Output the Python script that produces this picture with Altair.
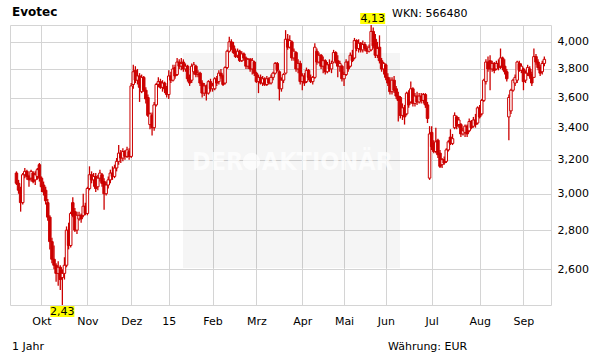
import altair as alt
import pandas as pd

# ---- daily OHLC (EUR), trading days mid-Sep 2014 .. mid-Sep 2015 ----
OPEN = [3.12,3.06,3.02,2.95,3.11,3.13,3.10,3.09,3.12,3.08,3.10,3.17,3.09,3.05,3.02,2.95,2.87,2.74,2.65,2.62,
        2.58,2.61,2.56,2.58,2.62,2.80,2.72,2.95,2.90,2.80,2.86,2.88,2.88,2.93,2.89,3.03,3.11,3.08,3.10,3.04,
        3.09,3.11,3.07,3.00,3.05,3.08,3.12,3.10,3.15,3.19,3.24,3.21,3.25,3.22,3.25,3.22,3.69,3.79,3.72,3.75,
        3.64,3.74,3.65,3.60,3.42,3.48,3.40,3.55,3.69,3.71,3.67,3.70,3.66,3.62,3.75,3.72,3.81,3.76,3.85,3.82,
        3.85,3.80,3.82,3.74,3.72,3.78,3.82,3.76,3.77,3.70,3.63,3.68,3.63,3.71,3.66,3.66,3.73,3.71,3.77,3.75,
        3.70,3.81,3.93,4.00,3.97,3.93,3.90,3.93,3.86,3.91,3.88,3.82,3.87,3.80,3.85,3.77,3.71,3.74,3.70,3.73,
        3.69,3.73,3.70,3.74,3.77,3.84,3.78,3.66,3.72,3.77,4.02,3.96,4.00,3.88,3.92,3.80,3.84,3.71,3.75,3.71,
        3.79,3.74,3.71,3.74,3.93,3.85,3.90,3.82,3.86,3.78,3.83,3.80,3.85,3.92,3.86,3.82,3.82,3.73,3.76,3.85,
        3.82,3.90,3.88,4.01,3.95,3.99,3.94,3.98,3.95,3.93,3.94,4.08,4.02,3.90,3.96,3.86,3.80,3.83,3.74,3.72,
        3.64,3.72,3.66,3.61,3.60,3.48,3.53,3.49,3.63,3.57,3.66,3.56,3.61,3.57,3.61,3.58,3.62,3.55,3.09,3.37,
        3.30,3.25,3.32,3.24,3.17,3.20,3.19,3.26,3.34,3.30,3.40,3.47,3.42,3.42,3.36,3.37,3.41,3.38,3.44,3.41,
        3.45,3.43,3.53,3.49,3.58,3.71,3.85,3.86,3.80,3.84,3.80,3.84,3.82,3.88,3.82,3.78,3.47,3.51,3.65,3.70,
        3.72,3.84,3.79,3.80,3.72,3.77,3.80,3.76,3.74,3.89,3.85,3.81,3.78,3.84]
HIGH = [3.13,3.08,3.04,3.12,3.15,3.14,3.11,3.14,3.13,3.13,3.15,3.18,3.10,3.07,3.04,2.97,2.88,2.76,2.72,2.63,
        2.64,2.62,2.60,2.66,2.82,2.84,2.90,2.98,2.92,2.90,2.90,2.89,3.00,2.95,3.04,3.16,3.13,3.12,3.12,3.11,
        3.14,3.12,3.09,3.07,3.10,3.14,3.16,3.17,3.21,3.29,3.26,3.27,3.26,3.28,3.27,3.70,3.83,3.82,3.80,3.77,
        3.76,3.75,3.67,3.62,3.50,3.50,3.57,3.70,3.74,3.73,3.72,3.71,3.68,3.79,3.78,3.83,3.83,3.88,3.87,3.88,
        3.87,3.84,3.83,3.76,3.84,3.85,3.83,3.79,3.78,3.72,3.70,3.69,3.72,3.73,3.70,3.74,3.75,3.79,3.80,3.76,
        3.82,3.94,4.04,4.02,4.00,3.95,3.95,3.94,3.93,3.92,3.89,3.88,3.88,3.88,3.86,3.78,3.76,3.76,3.75,3.74,
        3.75,3.74,3.76,3.78,3.85,3.85,3.79,3.74,3.77,4.09,4.06,4.05,4.01,3.95,3.93,3.87,3.86,3.77,3.77,3.81,
        3.80,3.76,3.75,3.99,3.95,3.92,3.91,3.89,3.87,3.85,3.87,3.86,3.94,3.93,3.90,3.86,3.83,3.78,3.87,3.86,
        3.92,3.94,4.03,4.02,4.02,4.00,4.01,4.00,3.97,3.98,4.13,4.11,4.06,4.00,4.05,3.88,3.85,3.84,3.77,3.74,
        3.74,3.75,3.68,3.64,3.61,3.56,3.55,3.64,3.65,3.71,3.67,3.63,3.64,3.63,3.63,3.63,3.63,3.57,3.41,3.41,
        3.32,3.40,3.33,3.26,3.21,3.22,3.27,3.32,3.39,3.36,3.50,3.48,3.47,3.43,3.40,3.42,3.42,3.46,3.45,3.47,
        3.49,3.54,3.55,3.59,3.73,3.87,3.89,3.90,3.86,3.85,3.86,3.87,3.95,3.89,3.87,3.80,3.62,3.66,3.73,3.76,
        3.86,3.86,3.84,3.81,3.79,3.83,3.82,3.78,3.95,3.91,3.87,3.83,3.86,3.89]
LOW = [3.05,3.00,2.90,2.94,3.09,3.08,3.04,3.07,3.06,3.05,3.08,3.07,3.01,2.99,2.94,2.85,2.70,2.63,2.60,2.54,
       2.52,2.50,2.43,2.55,2.61,2.70,2.71,2.87,2.79,2.78,2.85,2.84,2.87,2.88,2.88,3.02,3.06,3.04,3.01,3.02,
       3.07,3.04,2.91,2.99,3.03,3.06,3.08,3.09,3.13,3.17,3.18,3.19,3.20,3.21,3.20,3.21,3.66,3.70,3.69,3.57,
       3.63,3.64,3.56,3.47,3.39,3.35,3.38,3.54,3.67,3.66,3.64,3.63,3.60,3.59,3.70,3.71,3.73,3.75,3.80,3.79,
       3.78,3.78,3.71,3.68,3.70,3.76,3.74,3.74,3.68,3.60,3.61,3.58,3.62,3.64,3.64,3.65,3.68,3.69,3.73,3.68,
       3.69,3.80,3.92,3.94,3.91,3.88,3.88,3.85,3.85,3.86,3.80,3.80,3.78,3.76,3.75,3.70,3.63,3.69,3.68,3.68,
       3.68,3.69,3.69,3.72,3.76,3.78,3.58,3.64,3.70,3.76,3.94,3.95,3.86,3.86,3.78,3.77,3.69,3.65,3.68,3.70,
       3.72,3.70,3.69,3.73,3.83,3.84,3.80,3.77,3.76,3.77,3.78,3.77,3.84,3.84,3.74,3.78,3.71,3.68,3.75,3.78,
       3.81,3.85,3.87,3.93,3.92,3.92,3.92,3.93,3.91,3.92,3.93,3.95,3.88,3.88,3.84,3.78,3.76,3.72,3.68,3.62,
       3.62,3.63,3.59,3.44,3.46,3.45,3.42,3.48,3.53,3.56,3.54,3.54,3.55,3.56,3.56,3.56,3.53,3.43,3.08,3.26,
       3.24,3.24,3.21,3.15,3.15,3.17,3.18,3.25,3.29,3.29,3.39,3.39,3.40,3.34,3.35,3.34,3.34,3.37,3.39,3.40,
       3.40,3.42,3.46,3.48,3.57,3.69,3.78,3.65,3.78,3.77,3.79,3.79,3.80,3.79,3.76,3.71,3.32,3.49,3.64,3.68,
       3.70,3.78,3.77,3.65,3.70,3.75,3.73,3.68,3.74,3.83,3.79,3.75,3.76,3.82]
CLOSE = [3.06,3.02,2.95,3.11,3.13,3.10,3.08,3.13,3.07,3.11,3.14,3.09,3.04,3.01,2.96,2.87,2.74,2.65,2.62,2.58,
         2.61,2.55,2.58,2.62,2.80,2.72,2.89,2.88,2.80,2.88,2.88,2.86,2.93,2.89,3.03,3.11,3.08,3.10,3.03,3.09,
         3.12,3.06,3.00,3.05,3.08,3.12,3.10,3.15,3.19,3.24,3.21,3.25,3.22,3.26,3.22,3.68,3.78,3.72,3.75,3.67,
         3.74,3.65,3.59,3.48,3.49,3.40,3.55,3.69,3.71,3.67,3.70,3.66,3.62,3.75,3.72,3.80,3.75,3.85,3.82,3.84,
         3.80,3.82,3.73,3.70,3.82,3.83,3.76,3.77,3.70,3.63,3.68,3.63,3.71,3.66,3.68,3.73,3.70,3.77,3.75,3.69,
         3.81,3.93,4.00,3.96,3.92,3.89,3.93,3.86,3.91,3.88,3.82,3.87,3.80,3.86,3.77,3.71,3.74,3.70,3.73,3.69,
         3.73,3.70,3.74,3.77,3.84,3.79,3.66,3.72,3.76,4.02,3.96,4.01,3.88,3.93,3.80,3.84,3.71,3.75,3.70,3.79,
         3.74,3.71,3.74,3.96,3.85,3.90,3.82,3.86,3.78,3.83,3.80,3.84,3.92,3.86,3.82,3.84,3.73,3.76,3.85,3.80,
         3.90,3.86,4.01,3.95,3.99,3.94,3.98,3.95,3.93,3.96,4.08,3.97,3.90,3.95,3.86,3.80,3.84,3.74,3.70,3.64,
         3.72,3.65,3.61,3.58,3.48,3.53,3.47,3.63,3.55,3.66,3.56,3.61,3.57,3.61,3.58,3.62,3.55,3.46,3.36,3.28,
         3.25,3.31,3.23,3.16,3.20,3.18,3.26,3.31,3.30,3.33,3.48,3.41,3.45,3.36,3.38,3.41,3.36,3.44,3.40,3.45,
         3.42,3.53,3.47,3.58,3.72,3.85,3.80,3.80,3.84,3.79,3.84,3.81,3.88,3.81,3.78,3.73,3.60,3.65,3.72,3.74,
         3.85,3.79,3.82,3.71,3.77,3.81,3.75,3.70,3.89,3.85,3.81,3.77,3.84,3.87]

MONTH_TICKS = [12, 34, 55, 73, 94, 115, 137, 157, 177, 199, 222, 243]
MONTH_LABELS = ["Okt", "Nov", "Dez", "15", "Feb", "Mrz", "Apr", "Mai", "Jun", "Jul", "Aug", "Sep"]
PRICE_TICKS = [2.6, 2.8, 3.0, 3.2, 3.4, 3.6, 3.8, 4.0]

TITLE = "Evotec"
WKN = "WKN: 566480"
PERIOD = "1 Jahr"
CURRENCY = "Währung: EUR"

RED = "#cc0000"
GRID = "#d4d4d4"
FONT = "DejaVu Sans"
WM_FONT = "DejaVu Sans Condensed, Liberation Sans Narrow, DejaVu Sans"
N = len(CLOSE)

df = pd.DataFrame({"i": list(range(N)), "open": OPEN, "high": HIGH, "low": LOW, "close": CLOSE})
df["dir"] = ["down" if c < o else "up" for o, c in zip(OPEN, CLOSE)]

i_max = HIGH.index(max(HIGH))
i_min = LOW.index(min(LOW))
hi_df = pd.DataFrame({"i": [i_max], "lab": [f"{max(HIGH):.2f}".replace(".", ",")]})
lo_df = pd.DataFrame({"i": [i_min], "lab": [f"{min(LOW):.2f}".replace(".", ",")]})

x_scale = alt.Scale(domain=[-0.7, N - 0.2], nice=False, zero=False)
y_scale = alt.Scale(type="log", domain=[min(LOW), max(HIGH)], nice=False, zero=False)

tick_str = ",".join(str(t) for t in MONTH_TICKS)
lab_str = ",".join("'" + l + "'" for l in MONTH_LABELS)
x_axis = alt.Axis(values=MONTH_TICKS, labelExpr=f"[{lab_str}][indexof([{tick_str}], datum.value)]",
                  grid=True, gridColor=GRID, domain=False, ticks=False, title=None,
                  labelFont=FONT, labelFontSize=11, labelColor="#000", labelPadding=10,
                  labelFlush=False, labelOverlap=False)
y_axis = alt.Axis(orient="right", values=PRICE_TICKS,
                  labelExpr="replace(format(datum.value, '.3f'), '.', ',')",
                  grid=True, gridColor=GRID, domain=False, ticks=False, title=None,
                  labelFont=FONT, labelFontSize=11, labelColor="#000", labelPadding=6,
                  labelFlush=False, labelOverlap=False)

one = pd.DataFrame({"a": [0]})

watermark_box = alt.Chart(one).mark_rect(fill="#000000", opacity=0.04).encode(
    x=alt.value(173), x2=alt.value(390), y=alt.value(28), y2=alt.value(243))
wm_der = alt.Chart(one).mark_text(text="DER", align="left", baseline="middle", fontSize=25,
                                  fontWeight="bold", font=WM_FONT,
                                  color="#ffffff", opacity=0.7).encode(x=alt.value(182), y=alt.value(137))
wm_logo = alt.Chart(one).mark_point(shape="circle", filled=True, size=300, color="#ffffff", opacity=0.7).encode(
    x=alt.value(241.5), y=alt.value(136.5))
wm_akt = alt.Chart(one).mark_text(text="AKTIONÄR", align="right", baseline="middle", fontSize=25,
                                  fontWeight="bold", font=WM_FONT,
                                  color="#ffffff", opacity=0.7).encode(x=alt.value(383), y=alt.value(137))

base = alt.Chart(df)
wicks = base.mark_rule(color=RED, strokeWidth=1.3).encode(
    x=alt.X("i:Q", scale=x_scale, axis=x_axis),
    y=alt.Y("low:Q", scale=y_scale, axis=y_axis),
    y2="high:Q")
bodies = base.mark_bar(size=2.5, stroke=RED, strokeWidth=1).encode(
    x=alt.X("i:Q", scale=x_scale),
    y=alt.Y("open:Q", scale=y_scale),
    y2="close:Q",
    fill=alt.Fill("dir:N", scale=alt.Scale(domain=["down", "up"], range=[RED, "#ffffff"]), legend=None))

hi_box = alt.Chart(hi_df).mark_rect(color="#ffff00", xOffset=-11, x2Offset=14).encode(
    x=alt.X("i:Q", scale=x_scale), x2="i:Q", y=alt.value(-12), y2=alt.value(-1))
hi_txt = alt.Chart(hi_df).mark_text(font=FONT, fontSize=11, color="#000", baseline="middle", dx=1.5).encode(
    x=alt.X("i:Q", scale=x_scale), y=alt.value(-6.5), text="lab:N")
lo_box = alt.Chart(lo_df).mark_rect(color="#ffff00", xOffset=-12, x2Offset=12).encode(
    x=alt.X("i:Q", scale=x_scale), x2="i:Q", y=alt.value(281), y2=alt.value(292))
lo_txt = alt.Chart(lo_df).mark_text(font=FONT, fontSize=11, color="#000", baseline="middle").encode(
    x=alt.X("i:Q", scale=x_scale), y=alt.value(286.5), text="lab:N")

title_t = alt.Chart(one).mark_text(text=TITLE, align="left", baseline="middle", font=FONT,
                                   fontSize=12, fontWeight="bold", color="#000").encode(
    x=alt.value(2), y=alt.value(-13))
wkn_t = alt.Chart(one).mark_text(text=WKN, align="left", baseline="middle", font=FONT,
                                 fontSize=11, color="#000").encode(x=alt.value(382), y=alt.value(-11))
per_t = alt.Chart(one).mark_text(text=PERIOD, align="left", baseline="middle", font=FONT,
                                 fontSize=11, color="#000").encode(x=alt.value(2), y=alt.value(322))
cur_t = alt.Chart(one).mark_text(text=CURRENCY, align="left", baseline="middle", font=FONT,
                                 fontSize=11, color="#000").encode(x=alt.value(378), y=alt.value(322))

chart = alt.layer(
    watermark_box, wm_der, wm_logo, wm_akt, wicks, bodies,
    hi_box, hi_txt, lo_box, lo_txt, title_t, wkn_t, per_t, cur_t
).properties(
    width=541, height=280,
    padding={"left": 10, "top": 25, "right": 60, "bottom": 59},
    autosize="none",
    background="#ffffff",
).configure_view(stroke=GRID, strokeWidth=1)

chart.save("out.html", embed_options={"renderer": "svg", "actions": False})
